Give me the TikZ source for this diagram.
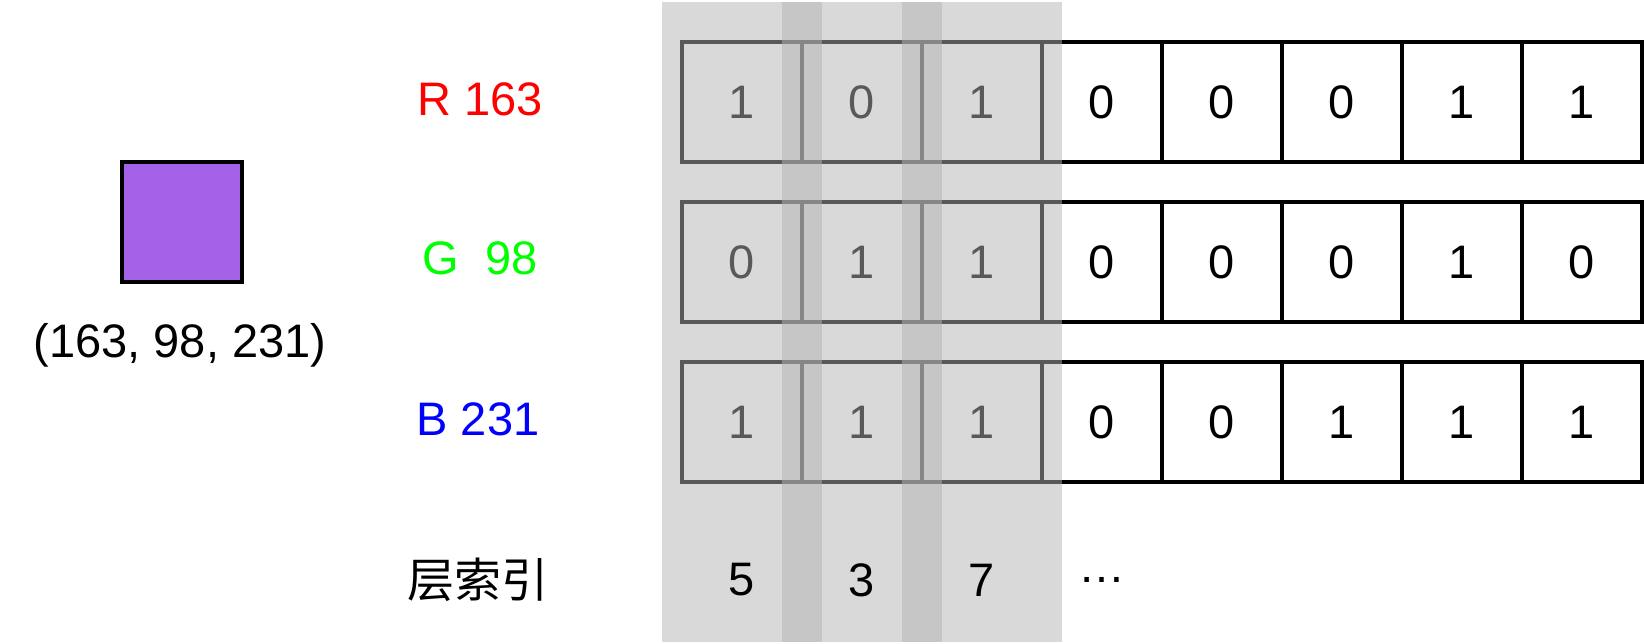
\documentclass[tikz,border=0pt]{standalone}
\usepackage{fontspec}
\setmainfont{Liberation Sans}
\newfontfamily\cjk{Noto Sans CJK SC}
\definecolor{purp}{RGB}{163,98,231}
\definecolor{bandgray}{RGB}{179,179,179}
\definecolor{rcol}{RGB}{255,0,0}
\definecolor{gcol}{RGB}{0,255,0}
\definecolor{bcol}{RGB}{0,0,255}
\begin{document}
\begin{tikzpicture}[x=1pt,y=-1pt,
  every node/.style={font=\fontsize{47}{56}\selectfont, inner sep=0pt, outer sep=0pt},
  cell/.style={draw=black, line width=4pt, minimum width=120pt, minimum height=120pt},
  swatch/.style={draw=black, fill=purp, line width=4pt, minimum width=120pt, minimum height=120pt},
  band/.style={fill=bandgray, fill opacity=0.5},
  lbl/.style={anchor=center}]
\useasboundingbox (0,0) rectangle (1644,644);
% colour swatch
\node[swatch] (sw) at (182,222) {};
\node[lbl] (cap) at (180,345) {(163, 98, 231)};
% channel labels
\node[lbl, text=rcol] (lr) at (480,99) {R 163};
\node[lbl, text=gcol] (lg) at (480,258) {G\ \ 98};
\node[lbl, text=bcol] (lb) at (478,419) {B 231};
\node[lbl] (li) at (478,580) {\cjk 层索引};
% bit cells
\foreach \bits [count=\r] in {{1,0,1,0,0,0,1,1},{0,1,1,0,0,0,1,0},{1,1,1,0,0,1,1,1}} {
  \foreach \b [count=\c] in \bits {
    \node[cell] (c\r-\c) at ({622+120*\c},{102+160*(\r-1)}) {\b};
  }
}
% highlight bands
\fill[band] (662,2) rectangle (822,642);
\fill[band] (782,2) rectangle (942,642);
\fill[band] (902,2) rectangle (1062,642);
% layer indices
\node[lbl] (i1) at (742,580) {5};
\node[lbl] (i2) at (862,580) {3};
\node[lbl] (i3) at (982,580) {7};
\node[lbl] (i4) at (1102,580) {…};
\end{tikzpicture}
\end{document}
